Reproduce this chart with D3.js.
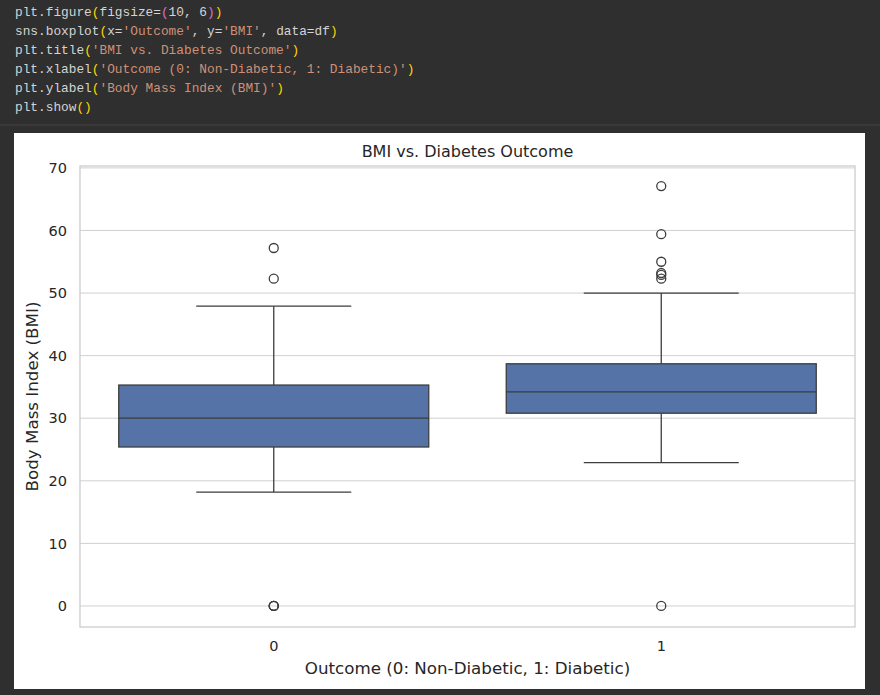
<!DOCTYPE html>
<html><head><meta charset="utf-8">
<script src="https://cdn.jsdelivr.net/npm/d3@7"></script>
<style>body{margin:0;background:#2f2f2f;}</style>
</head><body><div id="container"></div>
<script>
/* CONSTANTS AND GLOBALS */
const width = 880, height = 695;
const plot = { left: 80, right: 855, top: 166, bottom: 627 };

/* DATA */
const categories = ["0", "1"];
const q1 = [25.4, 30.8];
const medians = [30.0, 34.2];
const q3 = [35.3, 38.7];
const whiskLow = [18.2, 22.9];
const whiskHigh = [47.9, 50.0];
const outliers = [
  [57.2, 52.3, 0, 0, 0],
  [67.1, 59.4, 55.0, 53.2, 52.9, 52.3, 0]
];
const yTicks = [0, 10, 20, 30, 40, 50, 60, 70];

// code cell lines as [text, colour] tokens
const Y = "#ffd700", P = "#da70d6", S = "#ce9178", T = "#d4d4d4";
const codeLines = [
  [["plt.figure", T], ["(", Y], ["figsize=", T], ["(", P], ["10, 6", T], [")", P], [")", Y]],
  [["sns.boxplot", T], ["(", Y], ["x=", T], ["'Outcome'", S], [", y=", T], ["'BMI'", S], [", data=df", T], [")", Y]],
  [["plt.title", T], ["(", Y], ["'BMI vs. Diabetes Outcome'", S], [")", Y]],
  [["plt.xlabel", T], ["(", Y], ["'Outcome (0: Non-Diabetic, 1: Diabetic)'", S], [")", Y]],
  [["plt.ylabel", T], ["(", Y], ["'Body Mass Index (BMI)'", S], [")", Y]],
  [["plt.show", T], ["()", Y]]
];

const svg = d3.select("#container").append("svg")
  .attr("width", width).attr("height", height)
  .style("font-family", "DejaVu Sans");

svg.append("rect").attr("width", width).attr("height", height).attr("fill", "#2f2f2f");

// CODE CELL
codeLines.forEach((line, i) => {
  const t = svg.append("text")
    .attr("x", 15).attr("y", 16 + i * 19)
    .style("font-family", "Liberation Mono").style("font-size", "12.8px")
  line.forEach(([s, c]) => t.append("tspan").attr("fill", c).attr("xml:space", "preserve").text(s))
});
svg.append("line").attr("x1", 0).attr("x2", width).attr("y1", 125).attr("y2", 125)
  .attr("stroke", "#444");

// FIGURE BACKGROUND
svg.append("rect").attr("x", 14).attr("y", 133).attr("width", 851).attr("height", 556).attr("fill", "white");

// SCALES
const yScale = d3.scaleLinear().domain([-3.36, 70.3]).range([plot.bottom, plot.top]);
const xScale = d3.scaleBand().domain(categories).range([plot.left, plot.right]);
const boxW = xScale.bandwidth() * 0.8;

// GRID
svg.append("g").selectAll("line").data(yTicks).join("line")
  .attr("x1", plot.left).attr("x2", plot.right)
  .attr("y1", d => yScale(d)).attr("y2", d => yScale(d))
  .attr("stroke", "#d0d0d0").attr("stroke-width", 1);

// AXES
const yAxis = svg.append("g").attr("transform", `translate(${plot.left},0)`)
  .call(d3.axisLeft(yScale).tickValues(yTicks).tickSize(0).tickPadding(13));
const xAxis = svg.append("g").attr("transform", `translate(0,${plot.bottom})`)
  .call(d3.axisBottom(xScale).tickSize(0).tickPadding(14));
[xAxis, yAxis].forEach(a => {
  a.select(".domain").remove();
  a.selectAll("text").style("font-size", "14.5px").attr("fill", "#262626").style("font-family", "DejaVu Sans");
});

// BOXES
const groups = svg.append("g").selectAll("g").data(categories).join("g");
groups.append("line")
  .attr("x1", d => xScale(d) + xScale.bandwidth() / 2).attr("x2", d => xScale(d) + xScale.bandwidth() / 2)
  .attr("y1", (d, i) => yScale(whiskLow[i])).attr("y2", (d, i) => yScale(whiskHigh[i]))
  .attr("stroke", "#3d3d3d").attr("stroke-width", 1.3);
["low", "high"].forEach(k => {
  groups.append("line")
    .attr("x1", d => xScale(d) + xScale.bandwidth() / 2 - boxW / 4)
    .attr("x2", d => xScale(d) + xScale.bandwidth() / 2 + boxW / 4)
    .attr("y1", (d, i) => yScale(k === "low" ? whiskLow[i] : whiskHigh[i]))
    .attr("y2", (d, i) => yScale(k === "low" ? whiskLow[i] : whiskHigh[i]))
    .attr("stroke", "#3d3d3d").attr("stroke-width", 1.3);
});
groups.append("rect")
  .attr("x", d => xScale(d) + xScale.bandwidth() * 0.1).attr("width", boxW)
  .attr("y", (d, i) => yScale(q3[i])).attr("height", (d, i) => yScale(q1[i]) - yScale(q3[i]))
  .attr("fill", "#5573a6").attr("stroke", "#3d3d3d").attr("stroke-width", 1.3);
groups.append("line")
  .attr("x1", d => xScale(d) + xScale.bandwidth() * 0.1).attr("x2", d => xScale(d) + xScale.bandwidth() * 0.9)
  .attr("y1", (d, i) => yScale(medians[i])).attr("y2", (d, i) => yScale(medians[i]))
  .attr("stroke", "#3d3d3d").attr("stroke-width", 1.3);
groups.each(function (d, i) {
  d3.select(this).selectAll("circle").data(outliers[i]).join("circle")
    .attr("cx", xScale(d) + xScale.bandwidth() / 2).attr("cy", v => yScale(v)).attr("r", 4.5)
    .attr("fill", "none").attr("stroke", "#3d3d3d").attr("stroke-width", 1.3);
});

// FRAME
svg.append("rect").attr("x", plot.left).attr("y", plot.top)
  .attr("width", plot.right - plot.left).attr("height", plot.bottom - plot.top)
  .attr("fill", "none").attr("stroke", "#cccccc").attr("stroke-width", 1.3);

// TITLES
svg.append("text").attr("x", (plot.left + plot.right) / 2).attr("y", 157)
  .attr("text-anchor", "middle").style("font-size", "16px").attr("fill", "#262626")
  .text("BMI vs. Diabetes Outcome");
svg.append("text").attr("x", (plot.left + plot.right) / 2).attr("y", 674)
  .attr("text-anchor", "middle").style("font-size", "16.7px").attr("fill", "#262626")
  .text("Outcome (0: Non-Diabetic, 1: Diabetic)");
svg.append("text").attr("transform", `translate(38,${(plot.top + plot.bottom) / 2}) rotate(-90)`)
  .attr("text-anchor", "middle").style("font-size", "16.7px").attr("fill", "#262626")
  .text("Body Mass Index (BMI)");
</script></body></html>
